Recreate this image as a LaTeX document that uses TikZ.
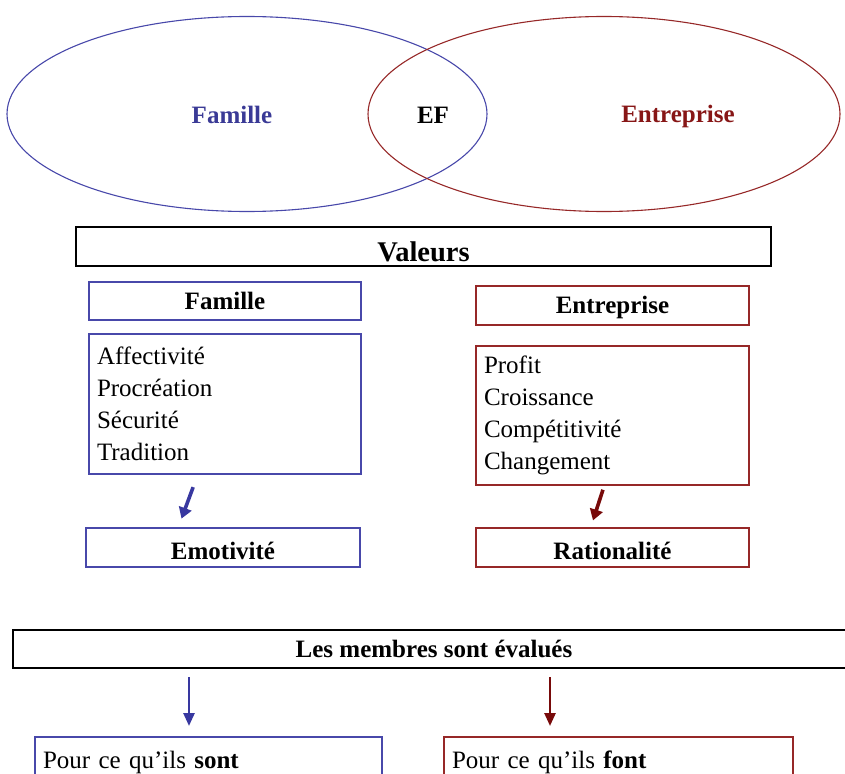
\documentclass[tikz,border=0pt]{standalone}
\usepackage{fontspec}
\setmainfont{Liberation Serif}
\usepackage{xcolor}
\usepackage{tikz}
\usetikzlibrary{positioning,calc,arrows.meta,shapes.geometric}
\definecolor{famblue}{RGB}{72,72,170}
\definecolor{famtext}{RGB}{58,58,150}
\definecolor{entred}{RGB}{150,40,40}
\definecolor{enttext}{RGB}{135,22,22}
\definecolor{arrblue}{RGB}{56,56,160}
\definecolor{arrred}{RGB}{120,10,10}
\tikzset{
  valfont/.style={font=\fontsize{25}{32}\selectfont},
  valbox/.style={draw, line width=1.3pt, inner sep=0pt, outer sep=0pt, align=center, text depth=0pt},
  valboxblue/.style={valbox, draw=famblue},
  valboxred/.style={valbox, draw=entred},
  vallist/.style={align=left, inner xsep=8pt, inner ysep=0pt, outer sep=0pt, draw, line width=1.3pt},
  valarrowthick/.style={-{Triangle[length=11pt,width=13pt]}, line width=3.6pt},
  valarrow/.style={-{Triangle[length=13pt,width=11pt]}, line width=2.6pt},
}

\begin{document}
\begin{tikzpicture}[valfont, x=1pt, y=-1pt]
  \useasboundingbox (0,0) rectangle (845,773);
  \clip (0,0) rectangle (845,773);

  % Two overlapping sets at top
  \node[ellipse, draw=famblue, line width=1.1pt, minimum width=480, minimum height=195] (famset) at (247,114) {};
  \node[ellipse, draw=entred, line width=1.1pt, minimum width=472, minimum height=195] (entset) at (604,114) {};
  \node[text=famtext, font=\fontsize{25}{30}\selectfont\bfseries] (famlabel) at (232,115) {Famille};
  \node[font=\fontsize{25}{30}\selectfont\bfseries] (eflabel) at (433,115) {EF};
  \node[text=enttext, font=\fontsize{25}{30}\selectfont\bfseries] (entlabel) at (678,116) {Entreprise};

  % Values
  \node[valbox, minimum width=695, minimum height=39, text height=29pt, font=\fontsize{28.5}{32}\selectfont\bfseries] (valeurs) at (423.5,246.5) {Valeurs};

  % Famille column
  \node[valboxblue, minimum width=272, minimum height=38, text height=16pt, font=\fontsize{25}{30}\selectfont\bfseries] (famhead) at (225,301) {Famille};
  \node[vallist, draw=famblue, text width=256, minimum height=140, below=14pt of famhead] (famlist)
  {Affectivité\\ Procréation\\ Sécurité\\ Tradition};
  \node[valboxblue, minimum width=274, minimum height=39, text height=23pt, font=\fontsize{25}{30}\selectfont\bfseries] (emo) at (223,547.5) {Emotivité};

  % Entreprise column
  \node[valboxred, minimum width=273, minimum height=39, text height=16pt, font=\fontsize{25}{30}\selectfont\bfseries] (enthead) at (612.5,305.5) {Entreprise};
  \node[vallist, draw=entred, text width=257, minimum height=139, below=21pt of enthead] (entlist)
  {Profit\\ Croissance\\ Compétitivité\\ Changement};
  \node[valboxred, minimum width=273, minimum height=39, text height=23pt, font=\fontsize{25}{30}\selectfont\bfseries] (rat) at (612.5,547.5) {Rationalité};

  \draw[valarrowthick, arrblue, shorten <=14pt, shorten >=10pt] ([xshift=-27]famlist.south) -- ([xshift=-45]emo.north);
  \draw[valarrowthick, arrred, shorten <=5pt, shorten >=8pt] ([xshift=-8]entlist.south) -- ([xshift=-22]rat.north);

  % Evaluation of members
  \node[valbox, minimum width=842, minimum height=38, text height=16pt, font=\fontsize{25}{30}\selectfont\bfseries] (membres) at (434,649) {Les membres sont évalués};
  \node[valboxblue, anchor=north west, minimum width=347, text width=331, align=left, inner xsep=8pt, inner ysep=4pt, text height=27pt, text depth=60pt] (sont) at (35,737) {Pour ce qu’ils \textbf{sont}};
  \node[valboxred, anchor=north west, minimum width=349, text width=333, align=left, inner xsep=8pt, inner ysep=4pt, text height=27pt, text depth=60pt] (font) at (444,737) {Pour ce qu’ils \textbf{font}};

  \coordinate (sontin) at ([xshift=-19.5]sont.north);
  \coordinate (fontin) at ([xshift=-68.5]font.north);
  \draw[valarrow, arrblue, shorten <=9pt, shorten >=11pt] (membres.south -| sontin) -- (sontin);
  \draw[valarrow, arrred, shorten <=9pt, shorten >=11pt] (membres.south -| fontin) -- (fontin);
\end{tikzpicture}
\end{document}
